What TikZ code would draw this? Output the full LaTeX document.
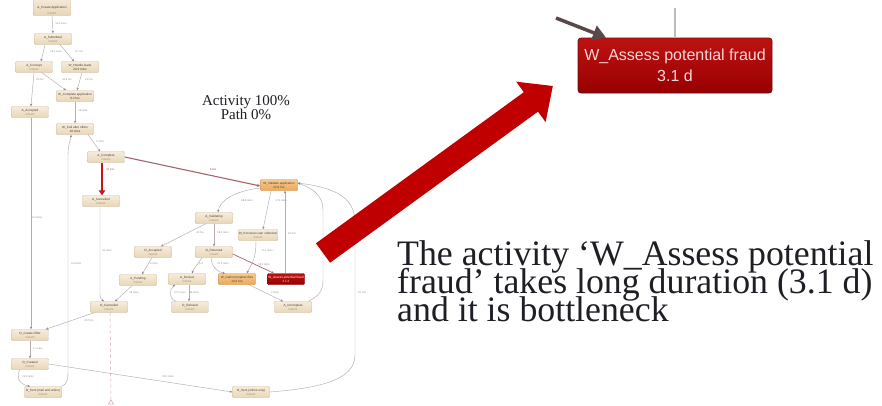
\documentclass[tikz,border=0pt]{standalone}
\usepackage{fontspec}
\usetikzlibrary{arrows.meta}
\newfontfamily\mapfont{Liberation Sans}
\newfontfamily\notefont{Liberation Serif}

\definecolor{boxtop}{HTML}{F6ECDC}
\definecolor{boxbot}{HTML}{E8D6B8}
\definecolor{boxline}{HTML}{CDBA98}
\definecolor{boxtxt}{HTML}{4A3C30}
\definecolor{subtxt}{HTML}{A89884}
\definecolor{orgtop}{HTML}{F6C88E}
\definecolor{orgbot}{HTML}{EAA95C}
\definecolor{orgline}{HTML}{C98D45}
\definecolor{hottop}{HTML}{BE1212}
\definecolor{hotbot}{HTML}{980000}
\definecolor{hotline}{HTML}{6A1010}
\definecolor{flowgray}{HTML}{B5ABAB}
\definecolor{tipgray}{HTML}{8C8282}
\definecolor{lblgray}{HTML}{8E8A86}
\definecolor{slowred}{HTML}{C81414}
\definecolor{mauve}{HTML}{A5646C}
\definecolor{bigred}{HTML}{C00000}
\definecolor{bigtxt}{HTML}{F7D8D8}
\definecolor{darkarr}{HTML}{5A4848}
\definecolor{linkgray}{HTML}{BDBDBD}
\definecolor{endpink}{HTML}{D9A0A0}
\definecolor{inkdark}{HTML}{1E1E24}

\newcommand\subl[1]{{\color{subtxt}#1}}

\begin{document}
\begin{tikzpicture}[x=1pt,y=-1pt,
  act/.style={rectangle, rounded corners=1pt, draw=boxline, line width=0.4pt,
    top color=boxtop, bottom color=boxbot, minimum width=37pt, minimum height=11pt,
    inner sep=0.5pt, align=center, text=boxtxt,
    font=\mapfont\fontsize{3.1}{3.9}\selectfont},
  actorange/.style={act, draw=orgline, top color=orgtop, bottom color=orgbot},
  acthot/.style={act, draw=hotline, top color=hottop, bottom color=hotbot, text=white},
  flow/.style={draw=flowgray, line width=0.45pt,
    -{Stealth[length=2.6pt,width=2.2pt,color=tipgray]}},
  slowflow/.style={draw=mauve, line width=1.1pt,
    -{Stealth[length=3.5pt,width=3pt]}},
  hotflow/.style={draw=slowred, line width=2.2pt,
    -{Triangle[length=5pt,width=6.5pt]}},
  lbl/.style={font=\mapfont\fontsize{2.6}{3}\selectfont, text=lblgray, inner sep=0pt},
  redlbl/.style={lbl, text=slowred},
  note/.style={font={\notefont\fontsize{35.8}{28.3}\selectfont\lineskiplimit=-1000pt},
    text=inkdark, inner sep=0pt, align=left},
  caption/.style={font=\notefont\fontsize{15}{13}\selectfont, text=inkdark, inner sep=0pt, anchor=base},
  bigbox/.style={rectangle, rounded corners=3pt, draw=hotline, line width=0.8pt,
    top color=hottop, bottom color=hotbot, minimum width=194pt, minimum height=55pt,
    align=center, text=bigtxt, font=\mapfont\fontsize{16}{20.5}\selectfont}
]
\useasboundingbox (0,0) rectangle (882,405);
\fill[white] (0,0) rectangle (882,405);

% ---------- process map: activities ----------
% the first activity runs off the top edge; its text is lowered into the visible part
\node[act, minimum height=19pt] (acreate) at (52,6)
  {\raisebox{-8.5pt}[0pt][0pt]{\shortstack{A\_Create Application\\\subl{instant}}}};
\node[act] (asub)       at (53,39)  {A\_Submitted\\\subl{instant}};
\node[act] (aconcept)   at (34,67)  {A\_Concept\\\subl{instant}};
\node[act] (whandle)    at (80,67)  {W\_Handle leads\\20.9 mins};
\node[act] (wcomplete)  at (75,96)  {W\_Complete application\\8.3 hrs};
\node[act] (aaccepted)  at (30,112) {A\_Accepted\\\subl{instant}};
\node[act] (wcall)      at (75,129) {W\_Call after offers\\18 mins};
\node[act] (acomplete)  at (106,157) {A\_Complete\\\subl{instant}};
\node[act] (acancelled) at (101,201) {A\_Cancelled\\\subl{instant}};
\node[act] (ocancelled) at (109,307) {O\_Cancelled\\\subl{instant}};
\node[act] (ocreate)    at (30,335) {O\_Create Offer\\\subl{instant}};
\node[act] (ocreated)   at (30,364) {O\_Created\\\subl{instant}};
\node[act] (osentmail)  at (43,392) {O\_Sent (mail and online)\\\subl{instant}};
\node[act] (osentonline) at (251,392) {O\_Sent (online only)\\\subl{instant}};
\node[actorange] (wvalidate) at (279,185) {W\_Validate application\\22.9 hrs};
\node[act] (avalidating) at (214,218) {A\_Validating\\\subl{instant}};
\node[act] (wpersonal)  at (258,235) {W\_Personal Loan collection\\\subl{instant}};
\node[act] (oaccepted)  at (153,252) {O\_Accepted\\\subl{instant}};
\node[act] (oreturned)  at (214,252) {O\_Returned\\\subl{instant}};
\node[act] (apending)   at (138,280) {A\_Pending\\\subl{instant}};
\node[act] (adenied)    at (187,279) {A\_Denied\\\subl{instant}};
\node[actorange] (wincomplete) at (237,279) {W\_Call incomplete files\\19.3 hrs};
\node[acthot] (wfraud)  at (286,279) {W\_Assess potential fraud\\{\color{bigtxt}3.1 d}};
\node[act] (orefused)   at (190,307) {O\_Refused\\\subl{instant}};
\node[act] (aincomplete) at (293,307) {A\_Incomplete\\\subl{instant}};
\coordinate (endpt) at (111,400);

% ---------- process map: flows ----------
\draw[flow] (acreate.south) -- (asub.north);
\draw[flow] ([xshift=-8]asub.south) -- ([xshift=7]aconcept.north);
\draw[flow] ([xshift=7]asub.south) -- ([xshift=-6]whandle.north);
\draw[flow] (aconcept.south) -- ([xshift=1]aaccepted.north);
\draw[flow] ([xshift=8]aconcept.south) -- ([xshift=-9]wcomplete.north);
\draw[flow] ([xshift=2]whandle.south) -- ([xshift=2]wcomplete.north);
\draw[flow] (wcomplete.south) -- (wcall.north);
\draw[flow] ([xshift=13]wcall.south) -- ([xshift=-6]acomplete.north);
\draw[hotflow] ([xshift=-4]acomplete.south) -- ([xshift=1]acancelled.north);
\draw[slowflow] (acomplete.east) -- ([yshift=-1]wvalidate.west);
\draw[flow] ([xshift=1]aaccepted.south) -- ([xshift=1]ocreate.north);
\draw[flow] (osentmail.north east) .. controls (67,384) and (68,380) .. (68,372)
   -- (68,155) .. controls (68,143) and (71,140) .. ([xshift=-4]wcall.south);
\draw[flow] ([xshift=-1]acancelled.south) -- (100,294)
   .. controls (100,298) and (102,300) .. ([xshift=-5]ocancelled.north);
\draw[flow] ([xshift=-6]apending.south) -- ([xshift=6]ocancelled.north);
\draw[flow] ([xshift=4]ocancelled.south west) -- ([xshift=-3]ocreate.north east);
\draw[endpink, line width=0.5pt, dashed] ([xshift=1]ocancelled.south) -- (endpt);
\draw[endpink, line width=0.5pt] (endpt) ++(-2.5,4) -- ++(2.5,-4) -- ++(2.5,4) -- cycle;
\draw[flow] (ocreate.south) -- (ocreated.north);
\draw[flow] ([xshift=-10]ocreated.south) .. controls (16,376) and (18,384) .. ([xshift=-13]osentmail.north);
\draw[flow] (ocreated.east) -- (osentonline.west);
\draw[flow] (osentonline.east) .. controls (320,388) and (355,380) .. (355,355)
   -- (355,222) .. controls (355,195) and (330,187) .. ([yshift=2]wvalidate.east);
\draw[flow] ([xshift=-3]aincomplete.north east) .. controls (318,296) and (323,292) .. (323,280)
   -- (323,210) .. controls (323,195) and (312,188) .. ([yshift=2]wvalidate.east);
\draw[flow] ([yshift=-3]wvalidate.west) .. controls (235,191) and (220,200) .. ([xshift=4]avalidating.north);
\draw[flow] ([xshift=-8]wvalidate.south) -- ([xshift=5]wpersonal.north);
\draw[flow] ([xshift=-1]wfraud.north) -- ([xshift=6]wvalidate.south);
\draw[flow] ([xshift=-8]avalidating.south) -- ([xshift=8]oaccepted.north);
\draw[flow] (avalidating.south) -- (oreturned.north);
\draw[flow] ([xshift=-1]oaccepted.south) -- ([xshift=4]apending.north);
\draw[flow] ([xshift=-12]oreturned.south) .. controls (198,264) and (194,268) .. ([xshift=5]adenied.north);
\draw[flow] ([xshift=-3]oreturned.south) .. controls (212,268) and (218,272) .. ([xshift=-12]wincomplete.north);
\draw[flow, draw=mauve, line width=0.7pt] ([yshift=-2]oreturned.east) -- ([xshift=-12]wfraud.north);
\draw[flow] ([xshift=-2]wpersonal.south) .. controls (256,262) and (250,266) .. ([xshift=10]wincomplete.north);
\draw[flow] ([xshift=2]adenied.south) -- ([xshift=-1]orefused.north);
\draw[flow] ([xshift=-14]orefused.north) .. controls (168,298) and (169,290) .. ([xshift=-12]adenied.south);
\draw[flow] ([xshift=12]wincomplete.south) -- ([xshift=-10]aincomplete.north);

% ---------- flow labels ----------
\node[lbl] (l01) at (61,24)  {14.9 secs};
\node[lbl] (l02) at (56,52)  {16.1 secs};
\node[lbl] (l03) at (79,52)  {3.7 hrs};
\node[lbl] (l04) at (40,80)  {24 hrs};
\node[lbl] (l05) at (67,80)  {23.8 hrs};
\node[lbl] (l06) at (89,80)  {2.9 hrs};
\node[lbl] (l07) at (83,111) {16 mins};
\node[lbl] (l08) at (100,142) {1 mins};
\node[redlbl] (l09) at (110,170) {37.4 d};
\node[redlbl] (l10) at (213,170) {5.8 d};
\node[lbl] (l11) at (37,218) {4.4 mins};
\node[lbl] (l12) at (76,264) {3.6 mins};
\node[lbl] (l13) at (107,251) {41 mins};
\node[lbl] (l14) at (134,293) {25 mins};
\node[lbl] (l15) at (89,321) {257 hrs};
\node[lbl] (l16) at (38,349) {1.1 secs};
\node[lbl] (l17) at (28,377) {25.3 mins};
\node[lbl] (l18) at (168,377) {30.4 mins};
\node[lbl] (l19) at (362,293) {4.1 hrs};
\node[lbl] (l20) at (247,201) {60.8 mins};
\node[lbl] (l21) at (281,201) {17.5 mins};
\node[lbl] (l22) at (292,234) {8.2 hrs};
\node[lbl] (l23) at (200,233) {22 hrs};
\node[lbl] (l24) at (223,233) {56.5 mins};
\node[lbl] (l25) at (154,264) {8 mins};
\node[lbl] (l26) at (201,264) {5 d};
\node[lbl] (l27) at (223,264) {47.0 mins};
\node[lbl] (l28) at (264,265) {53.3 mins};
\node[lbl] (l29) at (267,251) {71.4 mins};
\node[lbl] (l30) at (180,293) {0.57 secs};
\node[lbl] (l31) at (194,293) {46 mins};
\node[lbl] (l32) at (275,293) {2 mins};

% ---------- filter setting ----------
\node[caption] (capA) at (246,105) {Activity 100\%};
\node[caption] (capB) at (246,119) {Path 0\%};

% ---------- enlarged bottleneck activity ----------
\node[bigbox] (bigfraud) at (675,65.5) {W\_Assess potential fraud\\3.1 d};
\coordinate (gtop) at (675,8);
\coordinate (darkstart) at (556,18);
\draw[linkgray, line width=2pt] (gtop) -- (bigfraud.north);
\draw[darkarr, line width=3.5pt, -{Triangle[length=13pt,width=15pt]}] (darkstart) -- ([xshift=-69]bigfraud.north);

% ---------- pointer arrow ----------
\fill[bigred] (315.9,243.3) -- (523.8,92.2) -- (516.2,81.7) -- (552.8,86.0)
  -- (545.6,122.1) -- (538.0,111.6) -- (330.1,262.7) -- cycle;

% ---------- comment text (the base anchor sits on the last line) ----------
\node[note, anchor=base west] (note) at (397,321.6)
  {The activity ‘W\_Assess potential\\fraud’ takes long duration (3.1 d)\\and it is bottleneck};
\end{tikzpicture}
\end{document}
